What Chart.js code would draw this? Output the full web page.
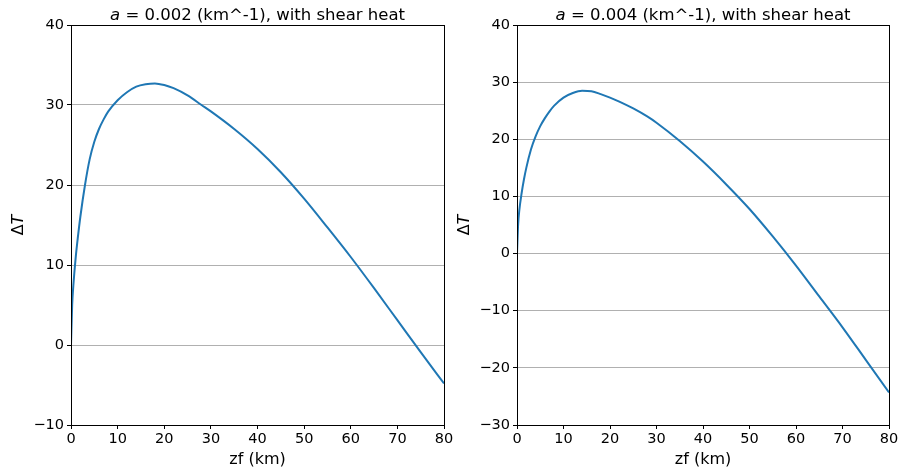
<!DOCTYPE html>
<html>
<head>
<meta charset="utf-8">
<script src="https://cdn.jsdelivr.net/npm/chart.js@4/dist/chart.umd.min.js"></script>
<style>
    html, body { margin: 0; padding: 0; background: #fff; }
    #wrap { position: relative; width: 899px; height: 469px; overflow: hidden; }
    canvas { position: absolute; top: 0; }
</style>
</head>
<body>
<div id="wrap">
    <canvas id="left" width="470" height="469" style="left:0"></canvas>
    <canvas id="right" width="450" height="469" style="left:449px"></canvas>
</div>
<script>
    // depth of fault (km), shared by both panels
    const zf = [0, 0.25, 0.5, 1, 1.5, 2, 3, 4, 5, 6, 7, 8, 10, 12, 14, 16, 18, 20, 22, 25, 28, 30,
        35, 40, 45, 50, 55, 60, 65, 70, 75, 80];

    // temperature difference, a = 0.002
    const dtA002 = [0, 5.0, 7.4, 10.9, 13.6, 16.0, 20.0, 23.2, 25.4, 27.0, 28.2, 29.2, 30.6, 31.6, 32.3, 32.6,
        32.7, 32.5, 32.1, 31.2, 30.0, 29.2, 27.0, 24.5, 21.6, 18.3, 14.7, 11.0, 7.1, 3.1, -0.9, -4.8];

    // temperature difference, a = 0.004
    const dtA004 = [0, 5.2, 7.6, 10.6, 13.0, 15.0, 18.2, 20.5, 22.3, 23.7, 24.9, 25.9, 27.3, 28.1, 28.5, 28.4,
        27.9, 27.3, 26.6, 25.4, 24.0, 22.9, 19.7, 16.1, 12.1, 7.8, 3.0, -2.1, -7.5, -12.9, -18.6, -24.3];

    const xTicks = [0, 10, 20, 30, 40, 50, 60, 70, 80];
    const yRangeLeft = [-10, 40];
    const yRangeRight = [-30, 40];

    const FONT = "'DejaVu Sans', sans-serif";
    const BLUE = '#1f77b4';

    // box, title with italic a, and the ΔT label
    const decorations = {
        id: 'decorations',
        afterDraw(chart, args, opts) {
            const { ctx, chartArea: ca } = chart;
            ctx.save();
            ctx.strokeStyle = '#000';
            ctx.lineWidth = 1;
            ctx.strokeRect(Math.round(ca.left) + 0.5, Math.round(ca.top) + 0.5,
                Math.round(ca.right - ca.left), Math.round(ca.bottom - ca.top));

            // title
            ctx.fillStyle = '#000';
            ctx.textBaseline = 'alphabetic';
            ctx.textAlign = 'left';
            const it = 'italic 16.5px ' + FONT;
            const rg = '16.5px ' + FONT;
            const rest = ' = ' + opts.aValue + ' (km^-1), with shear heat';
            ctx.font = it;
            const w1 = ctx.measureText('a').width;
            ctx.font = rg;
            const w2 = ctx.measureText(rest).width;
            let x = (ca.left + ca.right) / 2 - (w1 + w2) / 2;
            ctx.font = it;
            ctx.fillText('a', x, 20);
            ctx.font = rg;
            ctx.fillText(rest, x + w1, 20);

            // y axis label
            const lf = '16px ' + FONT;
            const lfi = 'italic 16px ' + FONT;
            ctx.translate(opts.labelX, (ca.top + ca.bottom) / 2);
            ctx.rotate(-Math.PI / 2);
            ctx.textBaseline = 'middle';
            ctx.font = lf;
            const d = ctx.measureText('Δ').width;
            ctx.font = lfi;
            const t = ctx.measureText('T').width;
            ctx.font = lf;
            ctx.fillText('Δ', -(d + t) / 2, 0);
            ctx.font = lfi;
            ctx.fillText('T', -(d + t) / 2 + d, 0);
            ctx.restore();
        }
    };

    function minus(v) {
        return String(v).replace('-', '\u2212');
    }

    function makeChart(canvasId, values, yRange, cfg) {
        const ctx = document.getElementById(canvasId).getContext('2d');
        return new Chart(ctx, {
            type: 'line',
            data: {
                datasets: [{
                    data: zf.map((z, i) => ({ x: z, y: values[i] })),
                    borderColor: BLUE,
                    borderWidth: 2,
                    pointRadius: 0,
                    cubicInterpolationMode: 'monotone',
                    fill: false
                }]
            },
            options: {
                responsive: false,
                animation: false,
                devicePixelRatio: 1,
                layout: { autoPadding: false, padding: { top: 25, right: cfg.padRight, left: 0, bottom: 0 } },
                plugins: {
                    legend: { display: false },
                    tooltip: { enabled: false },
                    decorations: { aValue: cfg.aValue, labelX: cfg.labelX }
                },
                scales: {
                    x: {
                        type: 'linear',
                        min: xTicks[0],
                        max: xTicks[xTicks.length - 1],
                        afterBuildTicks: s => { s.ticks = xTicks.map(v => ({ value: v })); },
                        ticks: { color: '#000', font: { family: FONT, size: 14.5 }, padding: 2, maxRotation: 0 },
                        grid: { drawOnChartArea: false, tickLength: 4, tickColor: '#000' },
                        border: { color: '#000', width: 1 },
                        title: {
                            display: true, text: 'zf (km)', color: '#000',
                            font: { family: FONT, size: 16 }, padding: { top: 0, bottom: 0 }
                        },
                        afterFit: s => {
                            s.height = 44;
                            s.paddingLeft = 0;
                            s.paddingRight = 0;
                        }
                    },
                    y: {
                        min: yRange[0],
                        max: yRange[1],
                        ticks: {
                            stepSize: 10, color: '#000', padding: 3,
                            font: { family: FONT, size: 14.5 },
                            callback: v => minus(v)
                        },
                        grid: { color: '#b0b0b0', lineWidth: 1, tickLength: 4, tickColor: '#000' },
                        border: { color: '#000', width: 1 },
                        afterFit: s => {
                            s.width = cfg.axisWidth;
                            s.paddingTop = 0;
                            s.paddingBottom = 0;
                        }
                    }
                }
            },
            plugins: [decorations]
        });
    }

    makeChart('left', dtA002, yRangeLeft, { aValue: '0.002', padRight: 26, axisWidth: 71, labelX: 19 });
    makeChart('right', dtA004, yRangeRight, { aValue: '0.004', padRight: 10, axisWidth: 68, labelX: 16 });
</script>
</body>
</html>
